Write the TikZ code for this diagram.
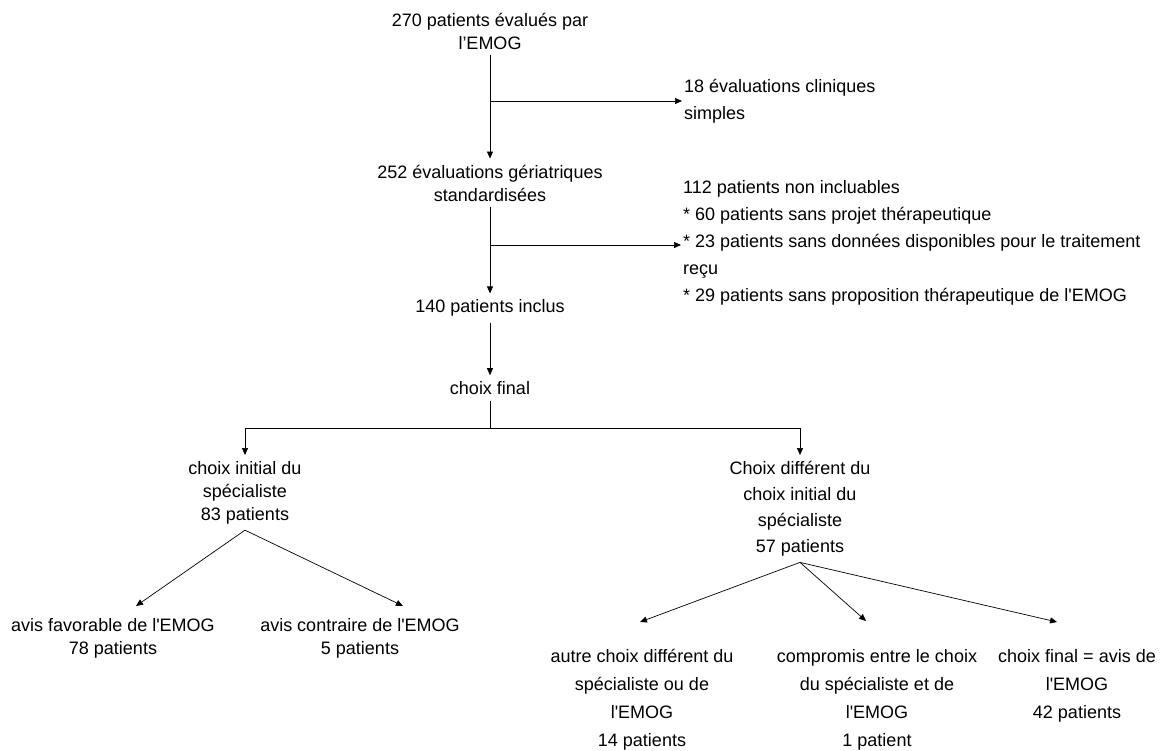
\documentclass[tikz,border=0pt]{standalone}
\usepackage{fontspec}
\newfontfamily\arial{Liberation Sans}
\usetikzlibrary{arrows.meta}
\tikzset{
  txt/.style={align=center, inner sep=6pt, font=\arial\fontsize{18}{23}\selectfont},
  haut/.style={txt, anchor=north},
  large/.style={haut, font=\arial\fontsize{18}{26}\selectfont},
  lst/.style={align=left, anchor=west, inner sep=2pt, font=\arial\fontsize{18}{27}\selectfont},
  fleche/.style={-{Triangle[length=7pt,width=6pt]}, line width=0.7pt}
}
\begin{document}
\begin{tikzpicture}[x=1pt,y=-1pt]
		\useasboundingbox (0,0) rectangle (1174,751);
		% Inclusion
		\node[txt] (eval) at (490,31) {270 patients évalués par\\l’EMOG};
		\node[lst] (clin) at (682,101) {18 évaluations cliniques\\simples};
		\node[txt] (ega) at (490,183) {252 évaluations gériatriques\\standardisées};
		\node[lst] (exclu) at (681,243) {112 patients non incluables\\* 60 patients sans projet thérapeutique\\* 23 patients sans données disponibles pour le traitement\\reçu\\* 29 patients sans proposition thérapeutique de l'EMOG};
		\node[txt] (inclus) at (490,308) {140 patients inclus};
		\node[txt] (final) at (490,388) {choix final};
		% Choix
		\node[haut] (initial) at (245,455) {choix initial du\\spécialiste\\83 patients};
		\node[large] (diff) at (800,455) {Choix différent du\\choix initial du\\spécialiste\\57 patients};
		\node[haut] (favo) at (113,612) {avis favorable de l'EMOG\\78 patients};
		\node[haut] (contra) at (360,612) {avis contraire de l'EMOG\\5 patients};
		\node[large, font=\arial\fontsize{18}{28}\selectfont] (autre) at (642,643) {autre choix différent du\\spécialiste ou de\\l'EMOG\\14 patients};
		\node[large, font=\arial\fontsize{18}{28}\selectfont] (compro) at (877,643) {compromis entre le choix\\du spécialiste et de\\l'EMOG\\1 patient};
		\node[large, font=\arial\fontsize{18}{28}\selectfont] (avis) at (1077,643) {choix final = avis de\\l'EMOG\\42 patients};
		% Branches
		\coordinate (b1) at (490,101);
		\coordinate (b2) at (490,245);
		\coordinate (b3) at (490,428);
		\draw[fleche] (eval) -- (ega);
		\draw[fleche] (b1) -- (clin.west);
		\draw[fleche] (ega) -- (inclus);
		\draw[fleche] (b2) -- (b2 -| exclu.west);
		\draw[fleche] (inclus) -- (final);
		\draw (final) -- (b3);
		\draw[fleche] (b3) -| (initial);
		\draw[fleche] (b3) -| (diff);
		\draw[fleche] (initial.south) -- ([shift={(23,-6)}]favo.north);
		\draw[fleche] (initial.south) -- ([shift={(43,-6)}]contra.north);
		\draw[fleche] (diff.south) -- ([shift={(-2,-21)}]autre.north);
		\draw[fleche] (diff.south) -- ([shift={(-11,-22)}]compro.north);
		\draw[fleche] (diff.south) -- ([shift={(-20,-21)}]avis.north);
	\end{tikzpicture}
\end{document}
